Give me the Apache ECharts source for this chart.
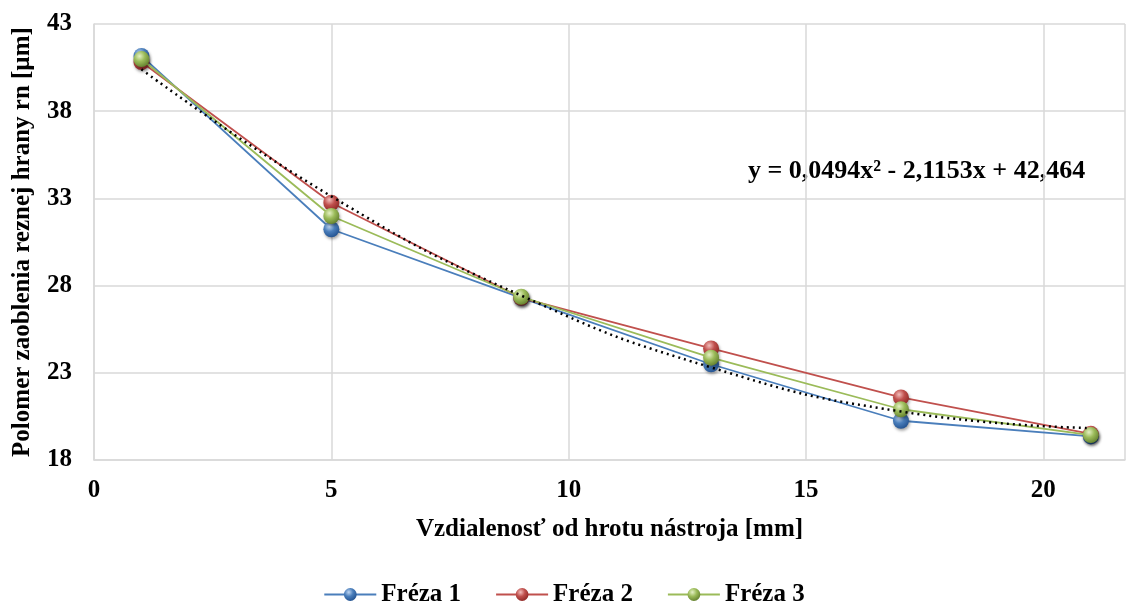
<!DOCTYPE html>
<html>
<head>
<meta charset="utf-8">
<script src="https://cdn.jsdelivr.net/npm/echarts@6/dist/echarts.min.js"></script>
<style>
  html, body { margin: 0; padding: 0; background: #fff; }
  #chart { width: 1128px; height: 612px; }
</style>
</head>
<body>
<div id="chart"></div>
<script>
// vzdialenosť od hrotu [mm]
const distances = [1, 5, 9, 13, 17, 21]
// polomer zaoblenia rn [µm]
const freza1 = [41.17, 31.23, 27.30, 23.49, 20.25, 19.35]
const freza2 = [40.82, 32.75, 27.30, 24.40, 21.59, 19.50]
const freza3 = [40.99, 31.99, 27.36, 23.87, 20.91, 19.43]
// polynomický trend (odčítaný z grafu)
const trendValues = [40.40, 33.12, 27.43, 23.31, 20.78, 19.83]
const seriesNames = ['Fréza 1', 'Fréza 2', 'Fréza 3']
const equationText = 'y = 0,0494x² - 2,1153x + 42,464'

const colors = ['#4A7EBB', '#C0504D', '#9BBB59']
const darker = ['#1F4E8C', '#8B2422', '#5E7A2A']
const lighter = ['#BFD6F2', '#F2BDBB', '#E4F0C4']

const font = '"Liberation Serif", "Times New Roman", serif'
const fs = 25

const chart = echarts.init(document.getElementById('chart'))

// guľové značky
const ball = (i) => new echarts.graphic.RadialGradient(0.38, 0.32, 0.75, [
  { offset: 0, color: lighter[i] },
  { offset: 0.45, color: colors[i] },
  { offset: 1, color: darker[i] }
])

const pairs = (ys) => distances.map((x, i) => [x, ys[i]])

const lineSeries = [freza1, freza2, freza3].map((ys, i) => ({
  name: seriesNames[i],
  type: 'line',
  data: pairs(ys),
  symbol: 'circle',
  symbolSize: 16,
  z: 3 + i,
  lineStyle: { color: colors[i], width: 1.8 },
  itemStyle: {
    color: ball(i),
    borderWidth: 0,
    shadowColor: 'rgba(0,0,0,0.35)',
    shadowBlur: 3,
    shadowOffsetX: 1,
    shadowOffsetY: 2
  }
}))

const option = {
  backgroundColor: '#fff',
  animation: false,
  grid: { left: 94, right: 0, top: 24, bottom: 152 },
  legend: {
    bottom: 0,
    left: 'center',
    itemWidth: 52,
    itemHeight: 16,
    itemGap: 34,
    data: seriesNames,
    textStyle: { fontFamily: font, fontWeight: 'bold', fontSize: fs, color: '#000' }
  },
  xAxis: {
    type: 'value',
    min: 0,
    max: 21.72,
    interval: 5,
    name: 'Vzdialenosť od hrotu nástroja [mm]',
    nameLocation: 'middle',
    nameGap: 57,
    nameTextStyle: { fontFamily: font, fontWeight: 'bold', fontSize: fs, color: '#000' },
    axisLine: { show: true, lineStyle: { color: '#D9D9D9', width: 1.5 } },
    axisTick: { show: false },
    splitLine: { show: true, lineStyle: { color: '#D9D9D9', width: 1.5 } },
    axisLabel: {
      margin: 18,
      fontFamily: font, fontWeight: 'bold', fontSize: fs, color: '#000',
      formatter: (v) => (v % 5 === 0 ? String(v) : '')
    }
  },
  yAxis: {
    type: 'value',
    min: 18,
    max: 43,
    interval: 5,
    name: 'Polomer zaoblenia reznej hrany rn [µm]',
    nameLocation: 'middle',
    nameGap: 59,
    nameTextStyle: { fontFamily: font, fontWeight: 'bold', fontSize: fs, color: '#000' },
    axisLine: { show: true, lineStyle: { color: '#D9D9D9', width: 1.5 } },
    axisTick: { show: false },
    splitLine: { show: true, lineStyle: { color: '#D9D9D9', width: 1.5 } },
    axisLabel: {
      margin: 22,
      fontFamily: font, fontWeight: 'bold', fontSize: fs, color: '#000'
    }
  },
  series: [
    ...lineSeries,
    {
      name: 'Trend',
      type: 'line',
      data: pairs(trendValues),
      smooth: 0.5,
      symbol: 'none',
      z: 10,
      silent: true,
      lineStyle: { color: '#000', width: 2.5, type: [2, 4] }
    }
  ],
  graphic: [{
    type: 'text',
    left: 748,
    top: 158,
    style: {
      text: equationText,
      fontFamily: font,
      fontWeight: 'bold',
      fontSize: 26,
      fill: '#000'
    }
  }]
}

chart.setOption(option)
</script>
</body>
</html>
